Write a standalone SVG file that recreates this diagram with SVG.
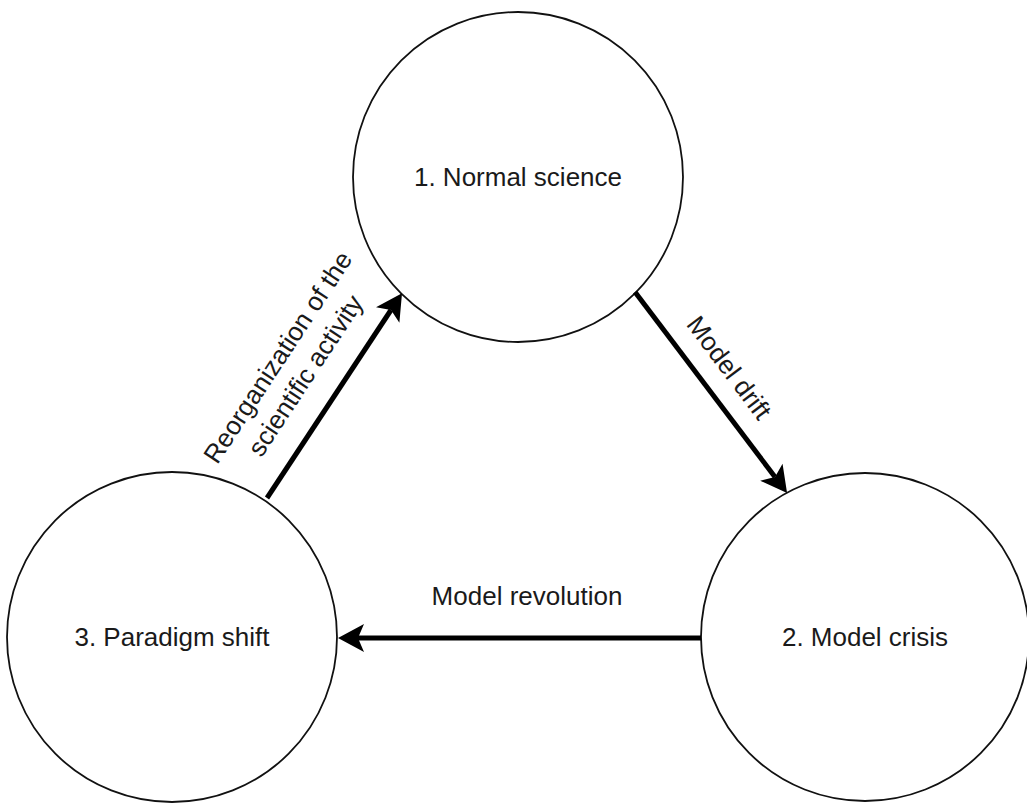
<svg xmlns="http://www.w3.org/2000/svg" width="1027" height="803" viewBox="0 0 1027 803">
<style>
.node{fill:#fff;stroke:#111;stroke-width:1.8}
.lbl{font-family:"Liberation Sans",Arial,sans-serif;font-size:26px;fill:#1a1a1a;text-anchor:middle}
.edge{stroke:#000;stroke-width:5;fill:none}
</style>
<defs>
<marker id="ah" markerUnits="userSpaceOnUse" viewBox="0 0 30 32" markerWidth="30" markerHeight="32" refX="8" refY="16" orient="auto">
<path d="M28,16 L2,2 L8,16 L2,30 Z" fill="#000"/>
</marker>
</defs>
<rect width="1027" height="803" fill="#fff"/>
<g id="node-normal-science">
<circle class="node" cx="518" cy="177" r="165"/>
<text class="lbl" x="518" y="186">1. Normal science</text>
</g>
<g id="node-model-crisis">
<circle class="node" cx="865" cy="637" r="164"/>
<text class="lbl" x="865" y="646">2. Model crisis</text>
</g>
<g id="node-paradigm-shift">
<circle class="node" cx="172" cy="637" r="165"/>
<text class="lbl" x="172" y="646">3. Paradigm shift</text>
</g>
<g id="connectors">
<line class="edge" x1="635" y1="292" x2="775" y2="477" marker-end="url(#ah)"/>
<line class="edge" x1="701" y1="638" x2="358" y2="638" marker-end="url(#ah)"/>
<line class="edge" x1="267" y1="498" x2="391" y2="310" marker-end="url(#ah)"/>
<text class="lbl" x="527" y="605">Model revolution</text>
<text class="lbl" transform="translate(722,373) rotate(53)" x="0" y="0">Model drift</text>
<g transform="translate(332,393) rotate(-56.6)">
<text class="lbl" x="0" y="-56">Reorganization of the</text>
<text class="lbl" x="0" y="-23">scientific activity</text>
</g>
</g>
</svg>
